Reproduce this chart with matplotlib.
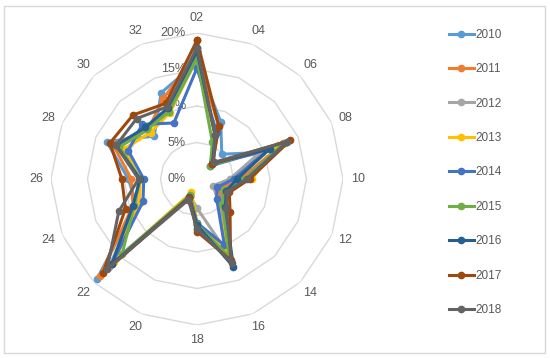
import numpy as np
import matplotlib
matplotlib.use("Agg")
import matplotlib.pyplot as plt
from matplotlib.patches import Rectangle

categories = ["02", "04", "06", "08", "10", "12", "14", "16",
              "18", "20", "22", "24", "26", "28", "30", "32"]
years = ["2010", "2011", "2012", "2013", "2014", "2015", "2016", "2017", "2018"]

v2010 = [16.0, 8.5, 4.8, 9.5, 5.5, 3.5, 4.5, 11.0, 6.3, 2.5, 19.4, 9.0, 9.4, 13.4, 8.3, 12.8]
v2011 = [17.0, 7.8, 3.0, 12.8, 6.0, 3.3, 4.5, 10.5, 6.8, 2.6, 18.8, 9.5, 9.0, 12.5, 9.5, 12.0]
v2012 = [16.5, 6.5, 3.2, 9.2, 4.5, 2.4, 4.0, 11.0, 4.0, 2.5, 17.0, 9.0, 8.0, 11.5, 9.5, 10.5]
v2013 = [16.5, 6.5, 3.0, 12.0, 7.5, 4.0, 5.0, 10.5, 6.0, 2.0, 16.0, 8.5, 7.8, 10.8, 9.0, 9.8]
v2014 = [15.2, 7.0, 2.5, 10.8, 5.0, 3.0, 3.8, 9.8, 6.0, 2.5, 16.5, 8.0, 7.3, 10.2, 10.6, 8.3]
v2015 = [16.5, 5.5, 2.6, 13.0, 6.5, 4.0, 4.9, 11.5, 6.2, 2.4, 14.5, 9.3, 7.8, 11.5, 9.6, 10.0]
v2016 = [17.5, 6.5, 3.0, 10.8, 5.5, 4.3, 5.5, 13.0, 6.3, 2.7, 16.5, 9.5, 7.8, 12.0, 10.0, 10.5]
v2017 = [19.0, 7.8, 3.0, 13.8, 7.2, 4.8, 6.4, 12.0, 7.2, 2.8, 18.2, 10.6, 10.3, 12.9, 12.4, 11.2]
v2018 = [18.0, 6.5, 3.2, 13.4, 6.8, 4.5, 5.7, 12.4, 6.8, 3.1, 17.4, 11.6, 8.0, 12.0, 11.7, 10.7]

series = [v2010, v2011, v2012, v2013, v2014, v2015, v2016, v2017, v2018]
colors = ["#5B9BD5", "#ED7D31", "#A5A5A5", "#FFC000", "#4472C4",
          "#70AD47", "#255E91", "#9E480E", "#636363"]
rticks = [0, 5, 10, 15, 20]
rlabels = ["0%", "5%", "10%", "15%", "20%"]

plt.rcParams['font.family'] = ['Liberation Sans', 'DejaVu Sans']

W, H = 550, 358
fig = plt.figure(figsize=(W / 100, H / 100), dpi=100)
fig.patches.append(Rectangle((4 / W, 5 / H), (W - 9) / W, (H - 11) / H,
                             transform=fig.transFigure, fill=False,
                             edgecolor="#D9D9D9", lw=1.0))

cx, cy, R = 197, 179, 146
ax = fig.add_axes([(cx - R) / W, (H - cy - R) / H, 2 * R / W, 2 * R / H],
                  projection="polar")
ax.set_theta_zero_location("N")
ax.set_theta_direction(-1)
ax.set_ylim(0, 20)
ax.set_xticks([])
ax.set_yticks([])
ax.grid(False)
ax.spines["polar"].set_visible(False)
ax.patch.set_alpha(0)

n = len(categories)
theta = np.arange(n) * 2 * np.pi / n
theta_c = np.append(theta, theta[0])

grid_col = "#D9D9D9"
for r in rticks[1:]:
    ax.plot(theta_c, [r] * (n + 1), color=grid_col, lw=1.0, zorder=1)

for t, lab in zip(theta, categories):
    ax.text(t, 22.0, lab, ha="center", va="center", fontsize=9,
            color="#595959")

for r, lab in zip(rticks, rlabels):
    ax.annotate(lab, xy=(0, r), xytext=(-11, 0), textcoords="offset pixels",
                ha="right", va="center", fontsize=9, color="#595959")

handles = []
for vals, col, yr in zip(series, colors, years):
    vv = np.append(vals, vals[0])
    h, = ax.plot(theta_c, vv, color=col, lw=2.2, marker="o", ms=4.5,
                 label=yr, zorder=3, clip_on=False)
    handles.append(h)

fig.legend(handles=handles, labels=years, loc="upper left",
           bbox_to_anchor=(444 / W, 1 - 24 / H), frameon=False,
           fontsize=8.5, labelcolor="#595959", handlelength=2.1,
           handletextpad=0.15, labelspacing=1.9, borderaxespad=0)

fig.savefig("out.png", dpi=100)
